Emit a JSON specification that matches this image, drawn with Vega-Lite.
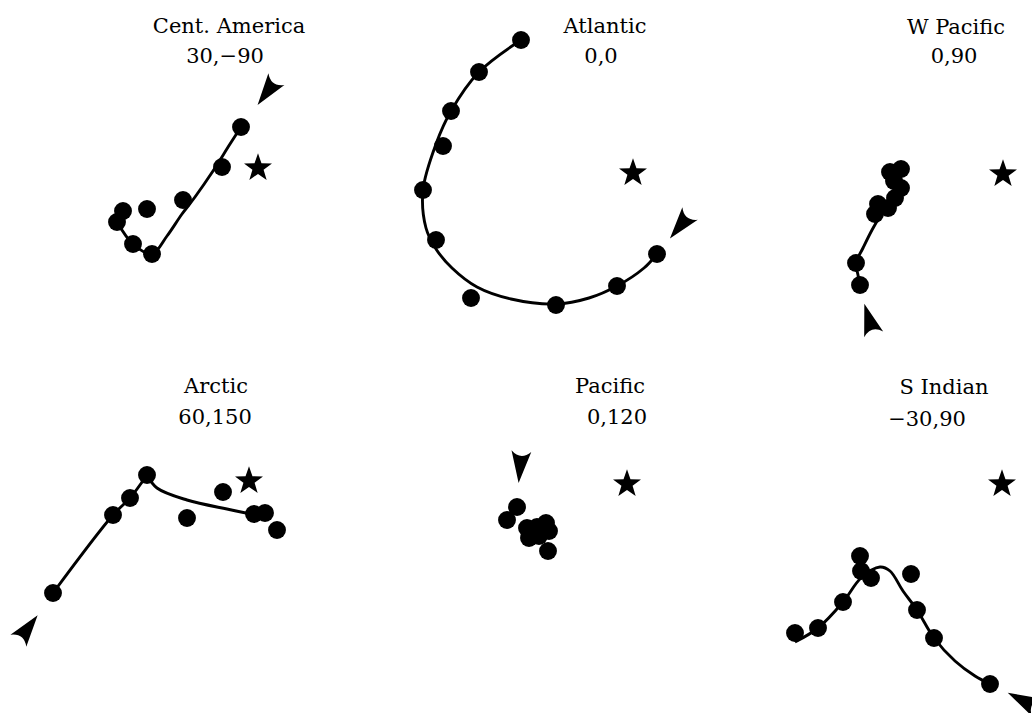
{
  "$schema": "https://vega.github.io/schema/vega-lite/v6.json",
  "padding": 0,
  "background": "white",
  "bounds": "flush",
  "spacing": 0,
  "columns": 3,
  "config": {"view": {"stroke": null}},
  "data": {"values": [
    {"panel": "Cent. America", "kind": "label", "x": 229, "y": 32, "text": "Cent. America"},
    {"panel": "Cent. America", "kind": "label", "x": 225, "y": 62, "text": "30,−90"},
    {"panel": "Cent. America", "kind": "dot", "x": 241, "y": 126},
    {"panel": "Cent. America", "kind": "dot", "x": 222, "y": 166},
    {"panel": "Cent. America", "kind": "dot", "x": 183, "y": 199},
    {"panel": "Cent. America", "kind": "dot", "x": 147, "y": 208},
    {"panel": "Cent. America", "kind": "dot", "x": 123, "y": 210},
    {"panel": "Cent. America", "kind": "dot", "x": 117, "y": 221},
    {"panel": "Cent. America", "kind": "dot", "x": 133, "y": 243},
    {"panel": "Cent. America", "kind": "dot", "x": 152, "y": 253},
    {"panel": "Cent. America", "kind": "curve", "seg": 1, "ord": 1, "x": 117, "y": 221},
    {"panel": "Cent. America", "kind": "curve", "seg": 1, "ord": 2, "x": 133, "y": 243},
    {"panel": "Cent. America", "kind": "curve", "seg": 1, "ord": 3, "x": 152, "y": 253},
    {"panel": "Cent. America", "kind": "curve", "seg": 1, "ord": 4, "x": 167, "y": 235},
    {"panel": "Cent. America", "kind": "curve", "seg": 1, "ord": 5, "x": 182, "y": 213},
    {"panel": "Cent. America", "kind": "curve", "seg": 1, "ord": 6, "x": 195, "y": 196},
    {"panel": "Cent. America", "kind": "curve", "seg": 1, "ord": 7, "x": 213, "y": 170},
    {"panel": "Cent. America", "kind": "curve", "seg": 1, "ord": 8, "x": 230, "y": 143},
    {"panel": "Cent. America", "kind": "curve", "seg": 1, "ord": 9, "x": 241, "y": 126},
    {"panel": "Cent. America", "kind": "star", "x": 258, "y": 167},
    {"panel": "Cent. America", "kind": "arrow", "x": 267, "y": 91, "dir": 216},

    {"panel": "Atlantic", "kind": "label", "x": 261, "y": 32, "text": "Atlantic"},
    {"panel": "Atlantic", "kind": "label", "x": 257, "y": 62, "text": "0,0"},
    {"panel": "Atlantic", "kind": "dot", "x": 177, "y": 39},
    {"panel": "Atlantic", "kind": "dot", "x": 135, "y": 71},
    {"panel": "Atlantic", "kind": "dot", "x": 107, "y": 110},
    {"panel": "Atlantic", "kind": "dot", "x": 99, "y": 145},
    {"panel": "Atlantic", "kind": "dot", "x": 79, "y": 189},
    {"panel": "Atlantic", "kind": "dot", "x": 92, "y": 239},
    {"panel": "Atlantic", "kind": "dot", "x": 127, "y": 297},
    {"panel": "Atlantic", "kind": "dot", "x": 212, "y": 304},
    {"panel": "Atlantic", "kind": "dot", "x": 273, "y": 285},
    {"panel": "Atlantic", "kind": "dot", "x": 313, "y": 253},
    {"panel": "Atlantic", "kind": "curve", "seg": 1, "ord": 1, "x": 177, "y": 39},
    {"panel": "Atlantic", "kind": "curve", "seg": 1, "ord": 2, "x": 135, "y": 71},
    {"panel": "Atlantic", "kind": "curve", "seg": 1, "ord": 3, "x": 107, "y": 110},
    {"panel": "Atlantic", "kind": "curve", "seg": 1, "ord": 4, "x": 92, "y": 143},
    {"panel": "Atlantic", "kind": "curve", "seg": 1, "ord": 5, "x": 79, "y": 189},
    {"panel": "Atlantic", "kind": "curve", "seg": 1, "ord": 6, "x": 82, "y": 227},
    {"panel": "Atlantic", "kind": "curve", "seg": 1, "ord": 7, "x": 92, "y": 248},
    {"panel": "Atlantic", "kind": "curve", "seg": 1, "ord": 8, "x": 108, "y": 267},
    {"panel": "Atlantic", "kind": "curve", "seg": 1, "ord": 9, "x": 133, "y": 286},
    {"panel": "Atlantic", "kind": "curve", "seg": 1, "ord": 10, "x": 167, "y": 298},
    {"panel": "Atlantic", "kind": "curve", "seg": 1, "ord": 11, "x": 212, "y": 303},
    {"panel": "Atlantic", "kind": "curve", "seg": 1, "ord": 12, "x": 245, "y": 297},
    {"panel": "Atlantic", "kind": "curve", "seg": 1, "ord": 13, "x": 273, "y": 285},
    {"panel": "Atlantic", "kind": "curve", "seg": 1, "ord": 14, "x": 300, "y": 267},
    {"panel": "Atlantic", "kind": "curve", "seg": 1, "ord": 15, "x": 313, "y": 253},
    {"panel": "Atlantic", "kind": "star", "x": 289, "y": 172},
    {"panel": "Atlantic", "kind": "arrow", "x": 336, "y": 225, "dir": 219},

    {"panel": "W Pacific", "kind": "label", "x": 268, "y": 33, "text": "W Pacific"},
    {"panel": "W Pacific", "kind": "label", "x": 266, "y": 62, "text": "0,90"},
    {"panel": "W Pacific", "kind": "dot", "x": 202, "y": 171},
    {"panel": "W Pacific", "kind": "dot", "x": 213, "y": 168},
    {"panel": "W Pacific", "kind": "dot", "x": 213, "y": 187},
    {"panel": "W Pacific", "kind": "dot", "x": 207, "y": 197},
    {"panel": "W Pacific", "kind": "dot", "x": 200, "y": 207},
    {"panel": "W Pacific", "kind": "dot", "x": 190, "y": 203},
    {"panel": "W Pacific", "kind": "dot", "x": 187, "y": 213},
    {"panel": "W Pacific", "kind": "dot", "x": 206, "y": 180},
    {"panel": "W Pacific", "kind": "dot", "x": 168, "y": 262},
    {"panel": "W Pacific", "kind": "dot", "x": 172, "y": 284},
    {"panel": "W Pacific", "kind": "curve", "seg": 1, "ord": 1, "x": 205, "y": 196},
    {"panel": "W Pacific", "kind": "curve", "seg": 1, "ord": 2, "x": 194, "y": 212},
    {"panel": "W Pacific", "kind": "curve", "seg": 1, "ord": 3, "x": 184, "y": 229},
    {"panel": "W Pacific", "kind": "curve", "seg": 1, "ord": 4, "x": 175, "y": 247},
    {"panel": "W Pacific", "kind": "curve", "seg": 1, "ord": 5, "x": 168, "y": 262},
    {"panel": "W Pacific", "kind": "curve", "seg": 1, "ord": 6, "x": 170, "y": 274},
    {"panel": "W Pacific", "kind": "curve", "seg": 1, "ord": 7, "x": 172, "y": 284},
    {"panel": "W Pacific", "kind": "star", "x": 315, "y": 173},
    {"panel": "W Pacific", "kind": "arrow", "x": 181, "y": 318, "dir": 343},

    {"panel": "Arctic", "kind": "label", "x": 216, "y": 36, "text": "Arctic"},
    {"panel": "Arctic", "kind": "label", "x": 215, "y": 67, "text": "60,150"},
    {"panel": "Arctic", "kind": "dot", "x": 53, "y": 236},
    {"panel": "Arctic", "kind": "dot", "x": 113, "y": 158},
    {"panel": "Arctic", "kind": "dot", "x": 130, "y": 141},
    {"panel": "Arctic", "kind": "dot", "x": 147, "y": 118},
    {"panel": "Arctic", "kind": "dot", "x": 187, "y": 161},
    {"panel": "Arctic", "kind": "dot", "x": 223, "y": 135},
    {"panel": "Arctic", "kind": "dot", "x": 254, "y": 157},
    {"panel": "Arctic", "kind": "dot", "x": 265, "y": 156},
    {"panel": "Arctic", "kind": "dot", "x": 277, "y": 173},
    {"panel": "Arctic", "kind": "curve", "seg": 1, "ord": 1, "x": 53, "y": 236},
    {"panel": "Arctic", "kind": "curve", "seg": 1, "ord": 2, "x": 113, "y": 158},
    {"panel": "Arctic", "kind": "curve", "seg": 1, "ord": 3, "x": 130, "y": 141},
    {"panel": "Arctic", "kind": "curve", "seg": 1, "ord": 4, "x": 147, "y": 118},
    {"panel": "Arctic", "kind": "curve", "seg": 2, "ord": 5, "x": 147, "y": 118},
    {"panel": "Arctic", "kind": "curve", "seg": 2, "ord": 6, "x": 157, "y": 131},
    {"panel": "Arctic", "kind": "curve", "seg": 2, "ord": 7, "x": 187, "y": 143},
    {"panel": "Arctic", "kind": "curve", "seg": 2, "ord": 8, "x": 227, "y": 152},
    {"panel": "Arctic", "kind": "curve", "seg": 2, "ord": 9, "x": 253, "y": 157},
    {"panel": "Arctic", "kind": "curve", "seg": 2, "ord": 10, "x": 265, "y": 156},
    {"panel": "Arctic", "kind": "star", "x": 249, "y": 124},
    {"panel": "Arctic", "kind": "arrow", "x": 28, "y": 271, "dir": 37},

    {"panel": "Pacific", "kind": "label", "x": 266, "y": 36, "text": "Pacific"},
    {"panel": "Pacific", "kind": "label", "x": 273, "y": 67, "text": "0,120"},
    {"panel": "Pacific", "kind": "dot", "x": 173, "y": 150},
    {"panel": "Pacific", "kind": "dot", "x": 163, "y": 163},
    {"panel": "Pacific", "kind": "dot", "x": 183, "y": 171},
    {"panel": "Pacific", "kind": "dot", "x": 202, "y": 166},
    {"panel": "Pacific", "kind": "dot", "x": 193, "y": 170},
    {"panel": "Pacific", "kind": "dot", "x": 185, "y": 181},
    {"panel": "Pacific", "kind": "dot", "x": 195, "y": 179},
    {"panel": "Pacific", "kind": "dot", "x": 205, "y": 174},
    {"panel": "Pacific", "kind": "dot", "x": 204, "y": 194},
    {"panel": "Pacific", "kind": "star", "x": 283, "y": 127},
    {"panel": "Pacific", "kind": "arrow", "x": 176, "y": 110, "dir": 185},

    {"panel": "S Indian", "kind": "label", "x": 256, "y": 37, "text": "S Indian"},
    {"panel": "S Indian", "kind": "label", "x": 239, "y": 69, "text": "−30,90"},
    {"panel": "S Indian", "kind": "dot", "x": 107, "y": 276},
    {"panel": "S Indian", "kind": "dot", "x": 130, "y": 271},
    {"panel": "S Indian", "kind": "dot", "x": 155, "y": 245},
    {"panel": "S Indian", "kind": "dot", "x": 172, "y": 199},
    {"panel": "S Indian", "kind": "dot", "x": 173, "y": 214},
    {"panel": "S Indian", "kind": "dot", "x": 183, "y": 221},
    {"panel": "S Indian", "kind": "dot", "x": 223, "y": 217},
    {"panel": "S Indian", "kind": "dot", "x": 229, "y": 253},
    {"panel": "S Indian", "kind": "dot", "x": 246, "y": 281},
    {"panel": "S Indian", "kind": "dot", "x": 302, "y": 327},
    {"panel": "S Indian", "kind": "curve", "seg": 1, "ord": 1, "x": 107, "y": 285},
    {"panel": "S Indian", "kind": "curve", "seg": 1, "ord": 2, "x": 130, "y": 271},
    {"panel": "S Indian", "kind": "curve", "seg": 1, "ord": 3, "x": 155, "y": 245},
    {"panel": "S Indian", "kind": "curve", "seg": 1, "ord": 4, "x": 173, "y": 221},
    {"panel": "S Indian", "kind": "curve", "seg": 1, "ord": 5, "x": 192, "y": 210},
    {"panel": "S Indian", "kind": "curve", "seg": 1, "ord": 6, "x": 202, "y": 214},
    {"panel": "S Indian", "kind": "curve", "seg": 1, "ord": 7, "x": 215, "y": 234},
    {"panel": "S Indian", "kind": "curve", "seg": 1, "ord": 8, "x": 229, "y": 253},
    {"panel": "S Indian", "kind": "curve", "seg": 1, "ord": 9, "x": 246, "y": 281},
    {"panel": "S Indian", "kind": "curve", "seg": 1, "ord": 10, "x": 267, "y": 304},
    {"panel": "S Indian", "kind": "curve", "seg": 1, "ord": 11, "x": 287, "y": 319},
    {"panel": "S Indian", "kind": "curve", "seg": 1, "ord": 12, "x": 302, "y": 327},
    {"panel": "S Indian", "kind": "star", "x": 314, "y": 127},
    {"panel": "S Indian", "kind": "arrow", "x": 334, "y": 343, "dir": 297}
  ]},
  "facet": {"field": "panel", "type": "nominal", "title": null,
            "header": {"labels": false, "title": null, "labelExpr": "''", "labelFontSize": 0.01, "labelPadding": 0, "titlePadding": 0},
            "sort": ["Cent. America", "Atlantic", "W Pacific", "Arctic", "Pacific", "S Indian"]},
  "spec": {
    "width": 344,
    "height": 356,
    "encoding": {
      "x": {"field": "x", "type": "quantitative", "scale": {"domain": [0, 344], "nice": false, "zero": false}, "axis": null},
      "y": {"field": "y", "type": "quantitative", "scale": {"domain": [0, 356], "nice": false, "zero": false, "reverse": true}, "axis": null}
    },
    "layer": [
      {
        "transform": [{"filter": "datum.kind === 'curve'"}],
        "mark": {"type": "line", "interpolate": "catmull-rom", "color": "black", "strokeWidth": 2.9},
        "encoding": {"detail": {"field": "seg", "type": "nominal"}, "order": {"field": "ord", "type": "quantitative"}}
      },
      {
        "transform": [{"filter": "datum.kind === 'dot'"}],
        "mark": {"type": "point", "shape": "circle", "filled": true, "color": "black", "opacity": 1, "size": 320}
      },
      {
        "transform": [{"filter": "datum.kind === 'star'"}],
        "mark": {"type": "point", "shape": "M0,-1L0.2351,-0.3236L0.9511,-0.309L0.3804,0.1236L0.5878,0.809L0,0.4L-0.5878,0.809L-0.3804,0.1236L-0.9511,-0.309L-0.2351,-0.3236Z", "filled": true, "color": "black", "opacity": 1, "size": 866}
      },
      {
        "transform": [{"filter": "datum.kind === 'arrow'"}],
        "mark": {"type": "point", "shape": "M0,-1L0.62,1Q0,0.4,-0.62,1Z", "filled": true, "color": "black", "opacity": 1, "size": 1024},
        "encoding": {"angle": {"field": "dir", "type": "quantitative", "scale": null}}
      },
      {
        "transform": [{"filter": "datum.kind === 'label'"}],
        "mark": {"type": "text", "font": "DejaVu Serif", "fontSize": 21, "baseline": "alphabetic", "align": "center", "color": "black"},
        "encoding": {"text": {"field": "text", "type": "nominal"}}
      }
    ]
  }
}
